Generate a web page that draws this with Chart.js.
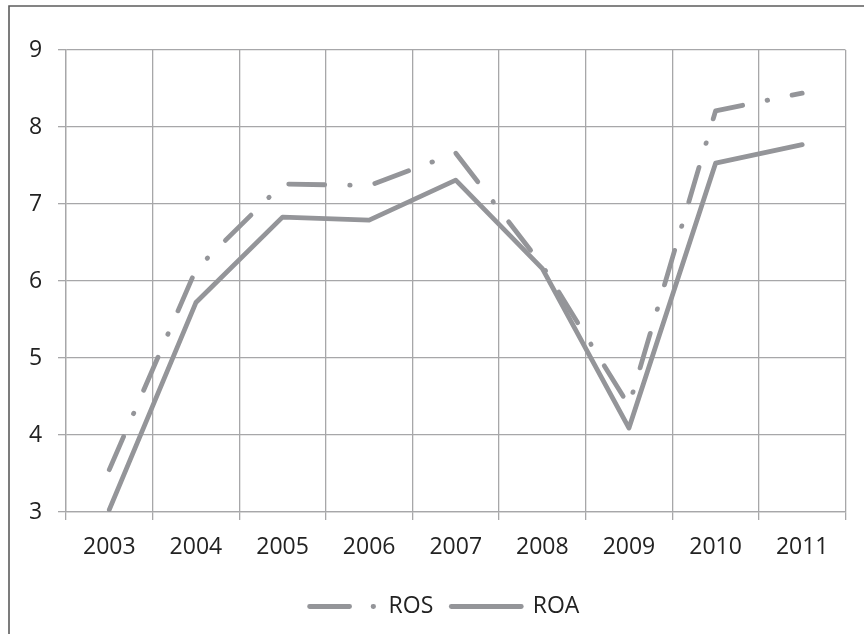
<!DOCTYPE html>
<html>
<head>
<meta charset="utf-8">
<script src="https://cdn.jsdelivr.net/npm/chart.js@4/dist/chart.umd.min.js"></script>
<style>
  html, body { margin: 0; padding: 0; background: #fff; overflow: hidden; }
  #wrap { width: 864px; height: 634px; position: relative; }
</style>
</head>
<body>
<div id="wrap"><canvas id="chart" width="864" height="634"></canvas></div>
<script>
// Years on the category axis
const years = ['2003', '2004', '2005', '2006', '2007', '2008', '2009', '2010', '2011'];
// Return on sales, %
const ros = [3.55, 6.15, 7.26, 7.24, 7.66, 6.20, 4.38, 8.21, 8.44];
// Return on assets, %
const roa = [3.03, 5.72, 6.83, 6.79, 7.31, 6.16, 4.09, 7.53, 7.77];
// Value axis range and step
const yMin = 3, yMax = 9, yStep = 1;

const lineGray = '#949599';
const gridGray = '#a7a7a9';
const textColor = '#222222';
const fontFamily = '"Open Sans", "Liberation Sans", sans-serif';
const fontSize = 23;

// Long dash / dot pattern for ROS
const rosDash = [36, 25, 0.5, 25];
// Same style, laid out for the short legend sample
const rosLegendDash = [40, 23.5, 0.5, 100];

// Thin frame around the chart
const framePlugin = {
  id: 'frame',
  beforeDraw(chart) {
    const ctx = chart.ctx;
    ctx.save();
    ctx.fillStyle = '#ffffff';
    ctx.fillRect(0, 0, chart.width, chart.height);
    ctx.strokeStyle = '#5c5c5c';
    ctx.lineWidth = 1.6;
    ctx.beginPath();
    ctx.moveTo(9, chart.height + 10);
    ctx.lineTo(9, 6);
    ctx.lineTo(chart.width + 10, 6);
    ctx.stroke();
    ctx.restore();
  }
};

new Chart(document.getElementById('chart'), {
  type: 'line',
  data: {
    labels: years,
    datasets: [
      {
        label: 'ROS',
        data: ros,
        borderColor: lineGray,
        backgroundColor: lineGray,
        borderWidth: 4.8,
        borderDash: rosDash,
        borderCapStyle: 'round',
        borderJoinStyle: 'round',
        pointRadius: 0,
        tension: 0,
        fill: false
      },
      {
        label: 'ROA',
        data: roa,
        borderColor: lineGray,
        backgroundColor: lineGray,
        borderWidth: 4.8,
        borderCapStyle: 'round',
        borderJoinStyle: 'round',
        pointRadius: 0,
        tension: 0,
        fill: false
      }
    ]
  },
  options: {
    responsive: false,
    animation: false,
    devicePixelRatio: 1,
    layout: { padding: { left: 41, right: 18.5, top: 50, bottom: 6 } },
    plugins: {
      tooltip: { enabled: false },
      legend: {
        display: true,
        position: 'bottom',
        labels: {
          color: textColor,
          font: { family: fontFamily, size: fontSize },
          usePointStyle: true,
          pointStyleWidth: 70,
          padding: 18,
          generateLabels(chart) {
            return chart.data.datasets.map((ds, i) => ({
              text: ds.label,
              fontColor: textColor,
              fillStyle: ds.borderColor,
              strokeStyle: ds.borderColor,
              lineWidth: ds.borderWidth,
              lineCap: 'round',
              lineJoin: 'round',
              lineDash: ds.borderDash ? rosLegendDash : [],
              lineDashOffset: ds.borderDash ? -2.5 : 0,
              pointStyle: 'line',
              hidden: false,
              datasetIndex: i
            }));
          }
        }
      }
    },
    scales: {
      x: {
        type: 'category',
        offset: true,
        grid: {
          offset: true,
          color: gridGray,
          lineWidth: 1.3,
          drawTicks: true,
          tickLength: 8,
          tickColor: gridGray
        },
        border: { display: true, color: gridGray, width: 1.3 },
        ticks: {
          color: textColor,
          font: { family: fontFamily, size: fontSize },
          padding: 14,
          maxRotation: 0,
          autoSkip: false
        },
        afterFit(scale) { scale.height = 65; }
      },
      y: {
        min: yMin,
        max: yMax,
        grid: {
          color: gridGray,
          lineWidth: 1.3,
          drawTicks: true,
          tickLength: 8,
          tickColor: gridGray
        },
        border: { display: true, color: gridGray, width: 1.3 },
        ticks: {
          stepSize: yStep,
          color: textColor,
          font: { family: fontFamily, size: fontSize },
          mirror: true,
          crossAlign: 'far',
          padding: -37
        },
        afterFit(scale) { scale.width = 25; }
      }
    }
  },
  plugins: [framePlugin]
});
</script>
</body>
</html>
